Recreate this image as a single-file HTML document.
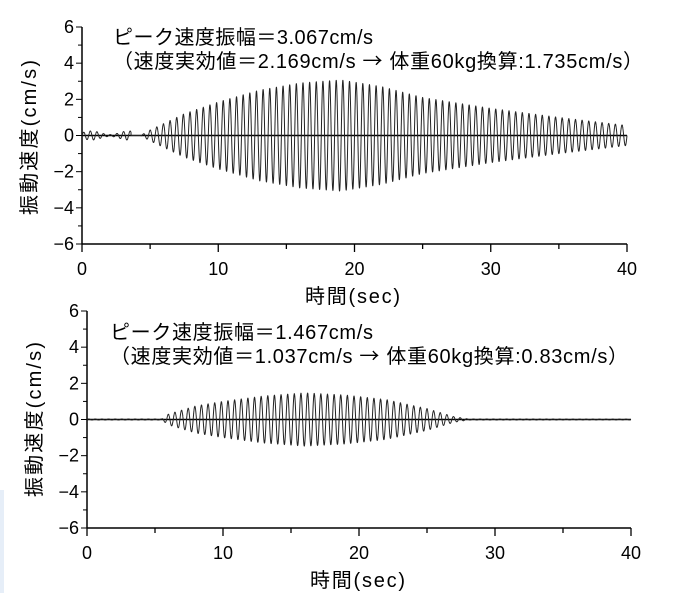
<!DOCTYPE html>
<html><head><meta charset="utf-8"><style>
body{margin:0;background:#fff;}
svg text{font-family:"Liberation Sans","Noto Sans CJK JP",sans-serif;fill:#000;}
.t{font-size:18px;}
.a{font-family:"Noto Sans CJK JP",sans-serif !important;}
</style></head><body>
<svg id="s" width="680" height="593" xmlns="http://www.w3.org/2000/svg">
<rect x="0" y="490" width="4" height="103" fill="#e6eef8"/>
<g id="c1"></g><g id="c2"></g>
<text x="113" y="44" style="font-size:20px" textLength="260" lengthAdjust="spacing">ピーク速度振幅＝3.067cm/s</text>
<text x="113" y="68" style="font-size:20px" textLength="530" lengthAdjust="spacing">（速度実効値＝2.169cm/s  <tspan class="a">→</tspan>  体重60kg換算:1.735cm/s）</text>
<text x="110" y="339" style="font-size:20px" textLength="263" lengthAdjust="spacing">ピーク速度振幅＝1.467cm/s</text>
<text x="110" y="363" style="font-size:20px" textLength="518" lengthAdjust="spacing">（速度実効値＝1.037cm/s  <tspan class="a">→</tspan>  体重60kg換算:0.83cm/s）</text>
<text x="305" y="303" style="font-size:20px" textLength="95" lengthAdjust="spacing">時間(sec)</text>
<text x="310" y="587" style="font-size:20px" textLength="95" lengthAdjust="spacing">時間(sec)</text>
<text transform="translate(36,215) rotate(-90)" style="font-size:20px" textLength="155" lengthAdjust="spacing">振動速度(cm/s)</text>
<text transform="translate(41,497) rotate(-90)" style="font-size:20px" textLength="155" lengthAdjust="spacing">振動速度(cm/s)</text>
</svg>
<script>
function interp(tab,t){if(t<=tab[0][0])return tab[0][1];for(let i=1;i<tab.length;i++){if(t<=tab[i][0]){const a=tab[i-1],b=tab[i];return a[1]+(b[1]-a[1])*(t-a[0])/(b[0]-a[0]);}}return tab[tab.length-1][1];}
function chart(g,x0,x1,y6,ym6,env,noise){
 let h='';
 const sx=t=>x0+(x1-x0)*t/40, sy=v=>y6+(ym6-y6)*(6-v)/12;
 h+=`<line x1="${x0}" y1="${y6}" x2="${x0}" y2="${ym6}" stroke="#000" stroke-width="1.5"/>`;
 h+=`<line x1="${x0}" y1="${ym6}" x2="${x1}" y2="${ym6}" stroke="#000" stroke-width="1.5"/>`;
 for(let v=-6;v<=6;v++){const y=sy(v);const L=v%2==0?6:4;h+=`<line x1="${x0-L}" y1="${y}" x2="${x0}" y2="${y}" stroke="#000"/>`;
  if(v%2==0)h+=`<text class="t" x="${x0-8}" y="${y+6}" text-anchor="end">${v<0?'−'+(-v):v}</text>`;}
 for(let t=0;t<=40;t+=5){const x=sx(t);const L=t%10==0?8:5;h+=`<line x1="${x}" y1="${ym6}" x2="${x}" y2="${ym6+L}" stroke="#000" stroke-width="1.3"/>`;
  if(t%10==0)h+=`<text class="t" x="${x}" y="${ym6+31}" text-anchor="middle">${t}</text>`;}
 h+=`<line x1="${x0}" y1="${sy(0)}" x2="${x1}" y2="${sy(0)}" stroke="#000" stroke-width="1.5"/>`;
 let p=[];for(let i=0;i<=16000;i++){const t=i*40/16000;let a=interp(env,t);
  if(noise&&t<3.6)a=0.25*(0.6+0.4*Math.sin(t*2.3));
  p.push(sx(t).toFixed(2)+','+sy(a*Math.sin(2*Math.PI*2.05*t)).toFixed(2));}
 h+=`<polyline points="${p.join(' ')}" fill="none" stroke="#222" stroke-width="1"/>`;
 document.getElementById(g).innerHTML=h;}
chart('c1',82,627,27,244,[[4.3,0],[5,0.3],[7.5,1.2],[10,1.85],[13,2.5],[16,2.9],[19,3.07],[22,2.7],[25,2.1],[30,1.5],[35,1.0],[40,0.55]],true);
chart('c2',87,631,311,528,[[0,0.03],[5.5,0.03],[6,0.3],[8,0.75],[10,1.0],[13,1.3],[16,1.47],[19,1.35],[22,1.1],[25,0.6],[27,0.15],[28,0.03],[40,0.02]],false);
</script>
</body></html>
